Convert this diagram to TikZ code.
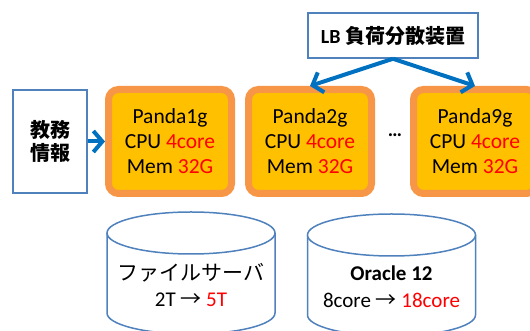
\documentclass[tikz,border=0pt]{standalone}
\usepackage{fontspec}
\setmainfont{Carlito}
\newfontfamily\jpfont{Noto Sans CJK JP}
\usetikzlibrary{arrows.meta,positioning}
\definecolor{boxblue}{HTML}{4F81BD}
\definecolor{arrblue}{HTML}{0070C0}
\definecolor{pandaedge}{HTML}{F79646}
\definecolor{pandafill}{HTML}{FFC000}

\begin{document}
\begin{tikzpicture}[x=1pt, y=1pt, >={Straight Barb[length=9pt,width=21pt]}]
\useasboundingbox (0,0) rectangle (530,331);
\tikzstyle{panda} = [draw=pandaedge, line width=7pt, fill=pandafill, rounded corners=10pt, minimum width=123pt, minimum height=104pt, align=center, font=\fontsize{21.5}{25}\selectfont]
\tikzstyle{info} = [draw=boxblue, line width=1.5pt, fill=white, align=center]
\tikzstyle{cyl} = [draw=boxblue, line width=1.5pt, fill=white]
\tikzstyle{link} = [->, arrblue, line width=4pt]
\node[info, minimum width=74pt, minimum height=103pt, font=\jpfont\bfseries\fontsize{20}{23}\selectfont] (kyomu) at (50,189.5) {教務\\情報};
\node[info, minimum width=170pt, minimum height=45pt, font=\bfseries\fontsize{20}{22}\selectfont] (lb) at (393,295.5) {LB {\jpfont 負荷分散装置}};
\node[panda] (p1) at (170,189.5) {Panda1g\\CPU \textcolor{red}{4core}\\Mem \textcolor{red}{32G}};
\node[panda] (p2) at (310,189.5) {Panda2g\\CPU \textcolor{red}{4core}\\Mem \textcolor{red}{32G}};
\node[panda] (p9) at (475,189.5) {Panda9g\\CPU \textcolor{red}{4core}\\Mem \textcolor{red}{32G}};
\node[font=\bfseries\fontsize{20}{22}\selectfont] (dots) at (395,196) {…};
\draw[link] (kyomu) -- (p1);
\draw[link] (lb.south) -- (p2.north);
\draw[link] (lb.south) -- (p9.north);
\draw[cyl] (107,98) -- (107,18) arc (180:360:84pt and 21pt) -- (275,98);
\draw[cyl] (191,98) ellipse (84pt and 21pt);
\draw[cyl] (307.5,96) -- (307.5,16) arc (180:360:84pt and 21pt) -- (475.5,96);
\draw[cyl] (391.5,96) ellipse (84pt and 21pt);
\node[align=center, font=\fontsize{21}{26}\selectfont] (fs) at (191,46) {{\jpfont ファイルサーバ}\\2T {\jpfont →} \textcolor{red}{5T}};
\node[align=center, font=\fontsize{21}{27}\selectfont] (ora) at (391.5,44.5) {\textbf{Oracle 12}\\8core {\jpfont →} \textcolor{red}{18core}};
\end{tikzpicture}
\end{document}
